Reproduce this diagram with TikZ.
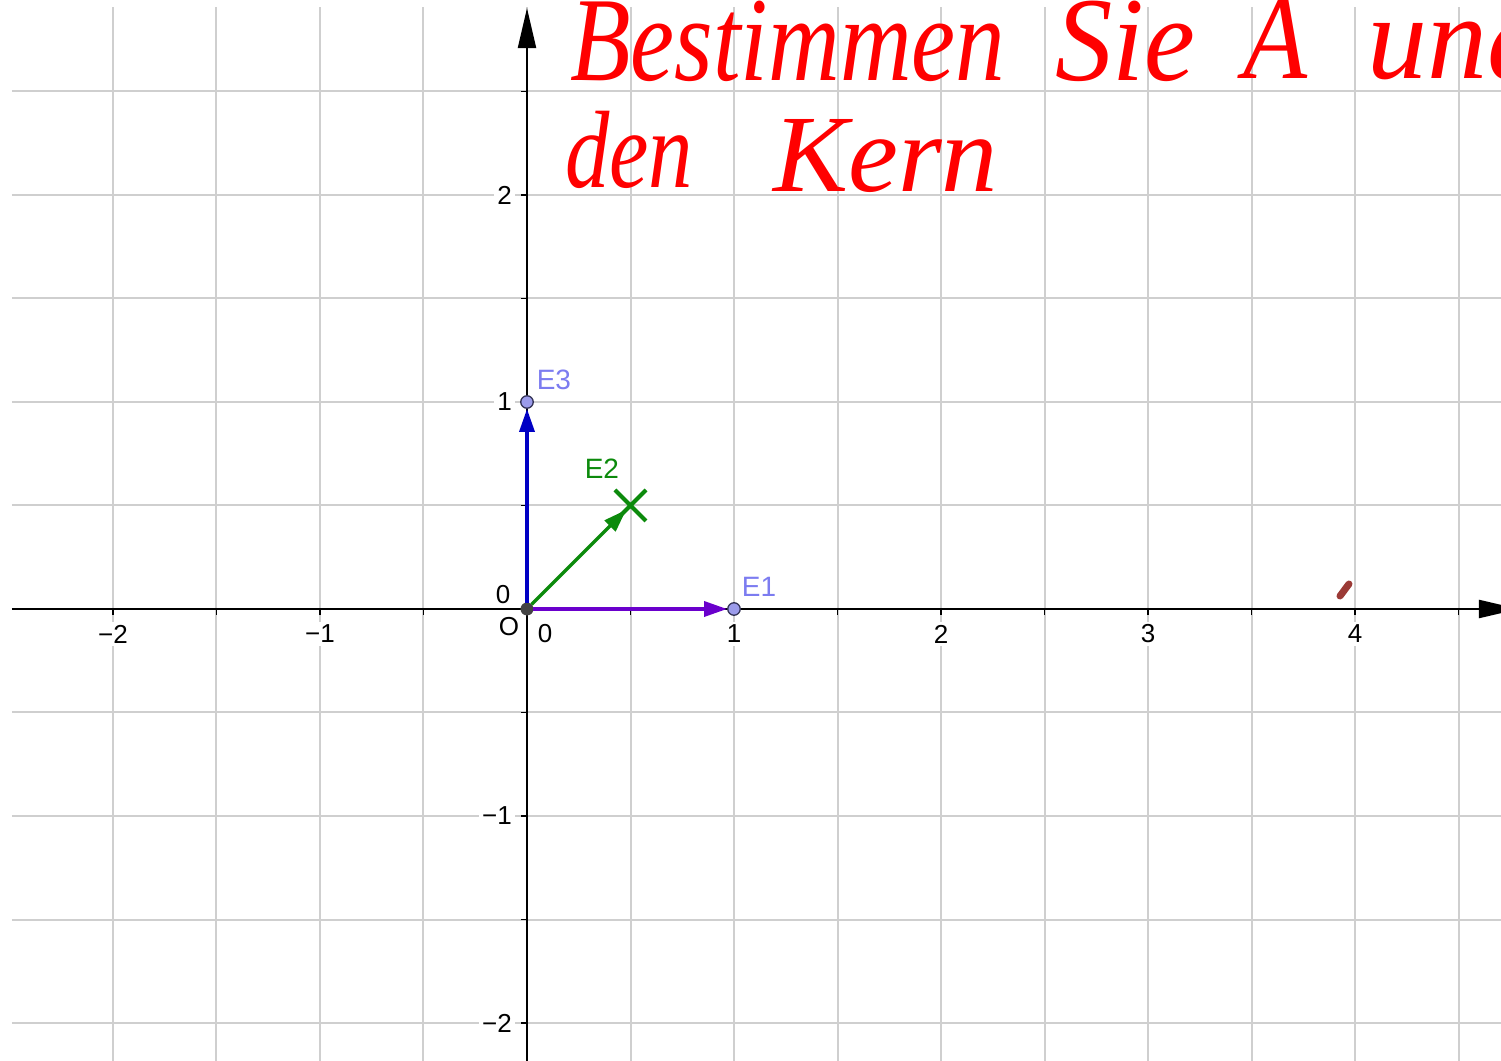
\documentclass[tikz,border=0pt]{standalone}
\usepackage{fontspec}
\setmainfont{Liberation Sans}
\newfontfamily\handfont{Liberation Serif}
\usetikzlibrary{arrows.meta,shapes.misc}

\definecolor{gridgray}{HTML}{CFCFCF}
\definecolor{ptlabel}{HTML}{7C7CF0}
\definecolor{ptfill}{HTML}{9B9BEA}
\definecolor{ptline}{HTML}{333355}
\definecolor{vecone}{HTML}{6A00CC}
\definecolor{vecthree}{HTML}{0000C4}
\definecolor{vectwo}{HTML}{0C8A0C}
\definecolor{inkred}{HTML}{FF0000}
\definecolor{inkbrown}{HTML}{9B3A36}
\definecolor{origingray}{HTML}{444444}

\begin{document}
\begin{tikzpicture}[x=207pt,y=207pt,
  gridline/.style={gridgray, line width=2pt},
  axisline/.style={black, line width=2.2pt, -{Triangle[length=40pt,width=18pt]}},
  tickmark/.style={black, line width=1.8pt},
  ticklabel/.style={font=\fontsize{26}{30}\selectfont, fill=white, inner sep=3pt},
  ptlab/.style={font=\fontsize{28}{32}\selectfont, text=ptlabel, inner sep=0pt},
  unitpt/.style={circle, fill=ptfill, draw=ptline, line width=1.3pt, minimum size=12.5pt, inner sep=0pt},
  originpt/.style={circle, fill=origingray, draw=origingray, minimum size=12.5pt, inner sep=0pt},
  crossmark/.style={cross out, draw=vectwo, line width=4pt, minimum size=27pt, inner sep=0pt},
  vec/.style={line width=3.4pt, -{Triangle[length=23pt,width=15pt]}},
  hand/.style={text=inkred, inner sep=0pt, anchor=base west}
]
\useasboundingbox (-2.54589,-2.18357) rectangle (4.70531,2.94203);
\clip (-2.54589,-2.18357) rectangle (4.70531,2.94203);

% grid
\foreach \y in {-2,-1.5,...,2.5} \draw[gridline] (-2.488,\y) -- (4.72,\y);
\foreach \x in {-2,-1.5,...,4.5} \draw[gridline] (\x,2.908) -- (\x,-2.2);

% tick labels (white background interrupts the grid)
\node[ticklabel] (xm2) at (-2,-0.121) {−2};
\node[ticklabel] (xm1) at (-1,-0.121) {−1};
\node[ticklabel] (x0) at (0.087,-0.121) {0};
\node[ticklabel] (x1) at (1,-0.121) {1};
\node[ticklabel] (x2) at (2,-0.121) {2};
\node[ticklabel] (x3) at (3,-0.121) {3};
\node[ticklabel] (x4) at (4,-0.121) {4};
\node[ticklabel, anchor=east] (y2) at (-0.058,2) {2};
\node[ticklabel, anchor=east] (y1) at (-0.058,1) {1};
\node[ticklabel, anchor=east] (ym1) at (-0.058,-1) {−1};
\node[ticklabel, anchor=east] (ym2) at (-0.058,-2) {−2};
\node[font=\fontsize{26}{30}\selectfont, inner sep=0pt] (y0) at (-0.116,0.068) {0};
\node[font=\fontsize{26}{30}\selectfont, text=black, inner sep=0pt] (Olab) at (-0.087,-0.087) {O};

% axes
\draw[axisline] (-2.488,0) -- (4.792,0);
\draw[axisline] (0,-2.2) -- (0,2.903);
\foreach \x in {-2,-1.5,...,4.5} \draw[tickmark] (\x,0) -- ++(0,-6pt);
\foreach \y in {-2,-1.5,...,2.5} \draw[tickmark] (0,\y) -- ++(-6pt,0);

% points
\node[originpt] (O) at (0,0) {};
\node[unitpt] (E1) at (1,0) {};
\node[unitpt] (E3) at (0,1) {};
\node[crossmark] (E2) at (0.5,0.5) {};

% vectors
\draw[vec, vecone] (O) -- (E1);
\draw[vec, vecthree] (O) -- (E3);
\draw[vec, vectwo, shorten >=6pt] (O) -- (E2.center);

% point labels
\node[ptlab] (E1lab) at (1.121,0.106) {E1};
\node[ptlab] (E3lab) at (0.130,1.106) {E3};
\node[ptlab, text=vectwo] (E2lab) at (0.362,0.676) {E2};

% handwritten note
\node[hand, font=\handfont\itshape\fontsize{120}{120}\selectfont] (w1) at (0.2077,2.5507) {\resizebox{435pt}{\height}{Bestimmen}};
\node[hand, font=\handfont\itshape\fontsize{120}{120}\selectfont] (w2) at (2.5507,2.5507) {\resizebox{140pt}{\height}{Sie}};
\node[hand, font=\handfont\itshape\fontsize{120}{120}\selectfont] (w3) at (3.4589,2.5604) {\resizebox{64pt}{\height}{A}};
\node[hand, font=\handfont\itshape\fontsize{120}{120}\selectfont] (w4) at (4.0580,2.5604) {und};
\node[hand, font=\handfont\itshape\fontsize{110}{110}\selectfont] (w5) at (0.1836,2.0338) {\resizebox{128pt}{\height}{den}};
\node[hand, font=\handfont\itshape\fontsize{110}{110}\selectfont] (w6) at (1.1884,2.0145) {\resizebox{225pt}{\height}{Kern}};

% brown ink dot
\draw[inkbrown, line width=7pt, line cap=round] (3.9275,0.0628) -- (3.9710,0.1208);
\end{tikzpicture}
\end{document}
